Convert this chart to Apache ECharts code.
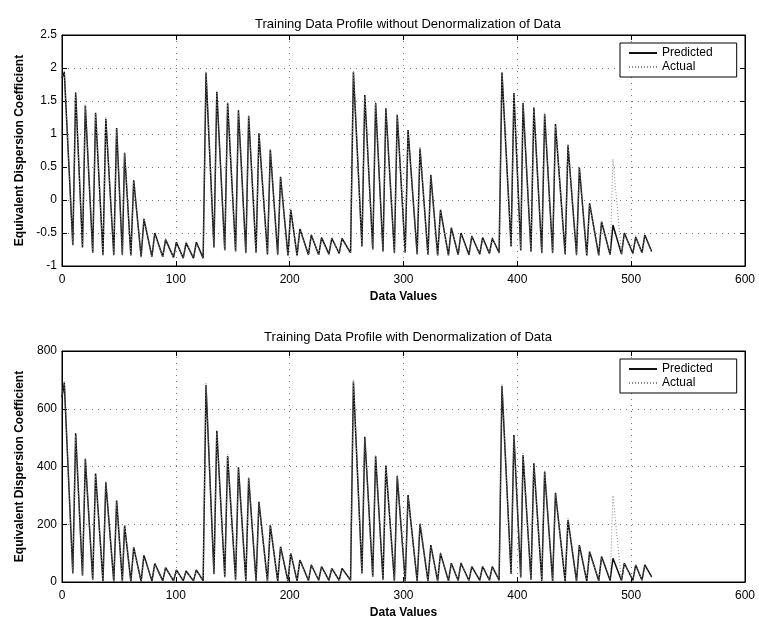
<!DOCTYPE html>
<html>
<head>
<meta charset="utf-8">
<script src="https://cdn.jsdelivr.net/npm/echarts@6/dist/echarts.min.js"></script>
<style>
html,body{margin:0;padding:0;background:#fff;}
#chart{width:759px;height:623px;}
</style>
</head>
<body>
<div id="chart"></div>
<script>
// Shared knot positions (data index) for both panels
const xs = [
  0, 2, 9.5, 12, 18, 20.5, 27, 29.5, 36, 38.5, 45.5, 48, 53, 55, 60.5, 63, 69.5, 72, 79, 81.5, 88.5, 91, 98, 100.5, 106.5, 109, 115.5, 118, 124,
  126.5, 133.5, 136, 143, 145.5, 152.5, 155, 161.5, 164, 170.5, 173, 180.5, 183, 189.5, 192, 198.5, 201, 206.5, 209, 216.5, 219, 225.5, 228, 234.5, 237, 243.5, 246, 253.5,
  256, 263.5, 266, 273, 275.5, 282, 284.5, 292, 294.5, 301.5, 304, 312, 314.5, 321.5, 324, 330, 332.5, 339.5, 342, 348, 350.5, 357.5, 360, 367, 369.5, 375.5, 378, 384,
  386.5, 394.5, 397, 403, 405, 412, 414.5, 421.5, 424, 431, 433.5, 442, 444.5, 452, 454.5, 461, 463.5, 471.5, 474, 481.5, 484, 491.5, 494, 501.5, 504, 509.5, 512, 518
];
// Top panel: normalized values
const topPredicted = [
  1.85, 1.94, -0.68, 1.63, -0.72, 1.43, -0.80, 1.32, -0.83, 1.23, -0.83, 1.09, -0.83, 0.71, -0.84, 0.30, -0.86, -0.29, -0.86, -0.50, -0.86, -0.60, -0.87, -0.64, -0.88, -0.65, -0.88, -0.64, -0.88,
  1.93, -0.72, 1.64, -0.76, 1.47, -0.78, 1.36, -0.80, 1.27, -0.80, 1.01, -0.82, 0.76, -0.83, 0.35, -0.84, -0.15, -0.84, -0.44, -0.83, -0.53, -0.83, -0.57, -0.82, -0.58, -0.81, -0.58, -0.80,
  1.94, -0.70, 1.59, -0.75, 1.47, -0.78, 1.39, -0.80, 1.29, -0.80, 1.06, -0.82, 0.78, -0.83, 0.38, -0.84, -0.15, -0.84, -0.42, -0.83, -0.50, -0.83, -0.55, -0.82, -0.57, -0.81, -0.58, -0.80,
  1.93, -0.70, 1.62, -0.76, 1.47, -0.78, 1.40, -0.80, 1.30, -0.80, 1.15, -0.82, 0.83, -0.83, 0.49, -0.84, -0.05, -0.84, -0.33, -0.83, -0.38, -0.82, -0.50, -0.81, -0.56, -0.80, -0.53, -0.78
];
const topActual = [
  1.88, 1.96, -0.70, 1.60, -0.74, 1.45, -0.81, 1.30, -0.84, 1.25, -0.84, 1.07, -0.84, 0.73, -0.85, 0.28, -0.87, -0.27, -0.87, -0.52, -0.87, -0.58, -0.88, -0.66, -0.88, -0.63, -0.89, -0.66, -0.89,
  1.95, -0.73, 1.62, -0.77, 1.49, -0.79, 1.34, -0.81, 1.29, -0.81, 0.99, -0.83, 0.78, -0.84, 0.33, -0.85, -0.13, -0.85, -0.46, -0.84, -0.51, -0.84, -0.59, -0.83, -0.56, -0.82, -0.60, -0.81,
  1.96, -0.71, 1.57, -0.76, 1.49, -0.79, 1.37, -0.81, 1.31, -0.81, 1.04, -0.83, 0.80, -0.84, 0.36, -0.85, -0.17, -0.85, -0.40, -0.84, -0.52, -0.84, -0.53, -0.83, -0.59, -0.82, -0.56, -0.81,
  1.95, -0.71, 1.60, -0.77, 1.49, -0.79, 1.38, -0.81, 1.32, -0.81, 1.13, -0.83, 0.85, -0.84, 0.47, -0.85, -0.07, -0.85, -0.31, -0.84, 0.62, -0.83, -0.52, -0.82, -0.54, -0.81, -0.55, -0.79
];
// Bottom panel: denormalized values
const botPredicted = [
  640, 690, 30, 515, 22, 426, 8, 376, 2, 345, 2, 282, 2, 195, 2, 120, 2, 93, 3, 64, 4, 50, 4, 42, 4, 38, 4, 42, 4,
  682, 28, 524, 18, 436, 8, 397, 4, 359, 3, 278, 3, 197, 3, 122, 3, 99, 4, 76, 5, 59, 6, 53, 6, 47, 6, 47, 6,
  694, 30, 503, 18, 436, 8, 403, 4, 367, 3, 301, 3, 201, 3, 128, 3, 99, 4, 65, 5, 65, 5, 53, 6, 54, 6, 53, 6,
  679, 28, 509, 16, 440, 8, 411, 4, 382, 3, 309, 3, 215, 3, 128, 3, 105, 4, 88, 5, 82, 5, 65, 6, 59, 6, 59, 18
];
const botActual = [
  650, 698, 26, 508, 20, 432, 6, 370, 1, 350, 1, 276, 1, 200, 1, 116, 1, 96, 2, 61, 3, 53, 3, 40, 3, 41, 3, 39, 3,
  690, 25, 517, 16, 442, 6, 391, 3, 364, 2, 272, 2, 202, 2, 118, 2, 102, 3, 73, 4, 62, 5, 50, 5, 50, 5, 44, 5,
  700, 27, 497, 16, 441, 6, 398, 3, 372, 2, 295, 2, 206, 2, 124, 2, 102, 3, 62, 4, 68, 4, 50, 5, 57, 5, 50, 5,
  686, 25, 502, 14, 446, 6, 405, 3, 388, 2, 303, 2, 220, 2, 124, 2, 108, 3, 85, 4, 300, 4, 62, 5, 62, 5, 56, 16
];
const titles = ['Training Data Profile without Denormalization of Data', 'Training Data Profile with Denormalization of Data'];
const xName = 'Data Values';
const yName = 'Equivalent Dispersion Coefficient';
const seriesNames = ['Predicted', 'Actual'];
const xTicks = {min: 0, max: 600, interval: 100};
const yTicksTop = {min: -1, max: 2.5, interval: 0.5};
const yTicksBot = {min: 0, max: 800, interval: 200};

const FONT = 'Liberation Sans, Arial, Helvetica, sans-serif';
const zip = arr => xs.map((x, i) => [x, arr[i]]);

function axesFor(gi, yt) {
  const gridLine = {show: true, lineStyle: {color: '#777', width: 1, type: [1, 5]}};
  const tick = {show: true, inside: true, length: 5, lineStyle: {color: '#000'}};
  const xA = [
    {type: 'value', gridIndex: gi, position: 'bottom', min: xTicks.min, max: xTicks.max, interval: xTicks.interval,
     axisLine: {show: true, onZero: false, lineStyle: {color: '#000', width: 1}}, axisTick: tick,
     axisLabel: {color: '#000', fontFamily: FONT, fontSize: 12, margin: 8},
     splitLine: gridLine,
     name: xName, nameLocation: 'middle', nameGap: 25,
     nameTextStyle: {color: '#000', fontFamily: FONT, fontSize: 12, fontWeight: 'bold'}},
    {type: 'value', gridIndex: gi, position: 'top', min: xTicks.min, max: xTicks.max, interval: xTicks.interval,
     axisLine: {show: true, onZero: false, lineStyle: {color: '#000', width: 1}}, axisTick: tick,
     axisLabel: {show: false}, splitLine: {show: false}}
  ];
  const yA = [
    {type: 'value', gridIndex: gi, position: 'left', min: yt.min, max: yt.max, interval: yt.interval,
     axisLine: {show: true, onZero: false, lineStyle: {color: '#000', width: 1}}, axisTick: tick,
     axisLabel: {color: '#000', fontFamily: FONT, fontSize: 12, margin: 5},
     splitLine: gridLine,
     name: yName, nameLocation: 'middle', nameGap: 36,
     nameTextStyle: {color: '#000', fontFamily: FONT, fontSize: 12, fontWeight: 'bold'}},
    {type: 'value', gridIndex: gi, position: 'right', min: yt.min, max: yt.max, interval: yt.interval,
     axisLine: {show: true, onZero: false, lineStyle: {color: '#000', width: 1}}, axisTick: tick,
     axisLabel: {show: false}, splitLine: {show: false}}
  ];
  return {xA, yA};
}
const a0 = axesFor(0, yTicksTop);
const a1 = axesFor(1, yTicksBot);

function legendAt(top) {
  return {
    left: 620, top: top, orient: 'vertical',
    backgroundColor: '#fff', borderColor: '#000', borderWidth: 1,
    padding: [4, 24, 4, 8], itemGap: 2, itemWidth: 28, itemHeight: 12,
    itemStyle: {opacity: 0},
    textStyle: {color: '#000', fontFamily: FONT, fontSize: 12},
    data: seriesNames.map(n => ({name: n}))
  };
}

const predStyle = {color: '#111', width: 1.5, type: 'solid'};
const actStyle = {color: '#888', width: 1, type: [1, 2]};

const option = {
  backgroundColor: '#fff',
  animation: false,
  title: [
    {text: titles[0], left: 403, top: 13, textAlign: 'center', textStyle: {color: '#000', fontFamily: FONT, fontSize: 13, fontWeight: 'normal'}},
    {text: titles[1], left: 403, top: 326, textAlign: 'center', textStyle: {color: '#000', fontFamily: FONT, fontSize: 13, fontWeight: 'normal'}}
  ],
  legend: [legendAt(43), legendAt(359)],
  grid: [
    {left: 62, right: 14, top: 35, height: 231, show: true, borderColor: '#000', borderWidth: 1, backgroundColor: '#fff'},
    {left: 62, right: 14, top: 351, height: 231, show: true, borderColor: '#000', borderWidth: 1, backgroundColor: '#fff'}
  ],
  xAxis: [...a0.xA, ...a1.xA],
  yAxis: [...a0.yA, ...a1.yA],
  series: [
    {name: seriesNames[0], type: 'line', xAxisIndex: 0, yAxisIndex: 0, data: zip(topPredicted), showSymbol: false, symbol: 'none', lineStyle: predStyle, itemStyle: {color: '#111'}},
    {name: seriesNames[1], type: 'line', xAxisIndex: 0, yAxisIndex: 0, data: zip(topActual), showSymbol: false, symbol: 'none', lineStyle: actStyle, itemStyle: {color: '#888'}},
    {name: seriesNames[0], type: 'line', xAxisIndex: 2, yAxisIndex: 2, data: zip(botPredicted), showSymbol: false, symbol: 'none', lineStyle: predStyle, itemStyle: {color: '#111'}},
    {name: seriesNames[1], type: 'line', xAxisIndex: 2, yAxisIndex: 2, data: zip(botActual), showSymbol: false, symbol: 'none', lineStyle: actStyle, itemStyle: {color: '#888'}}
  ]
};
const chart = echarts.init(document.getElementById('chart'), null, {renderer: 'canvas'});
chart.setOption(option);
</script>
</body>
</html>
